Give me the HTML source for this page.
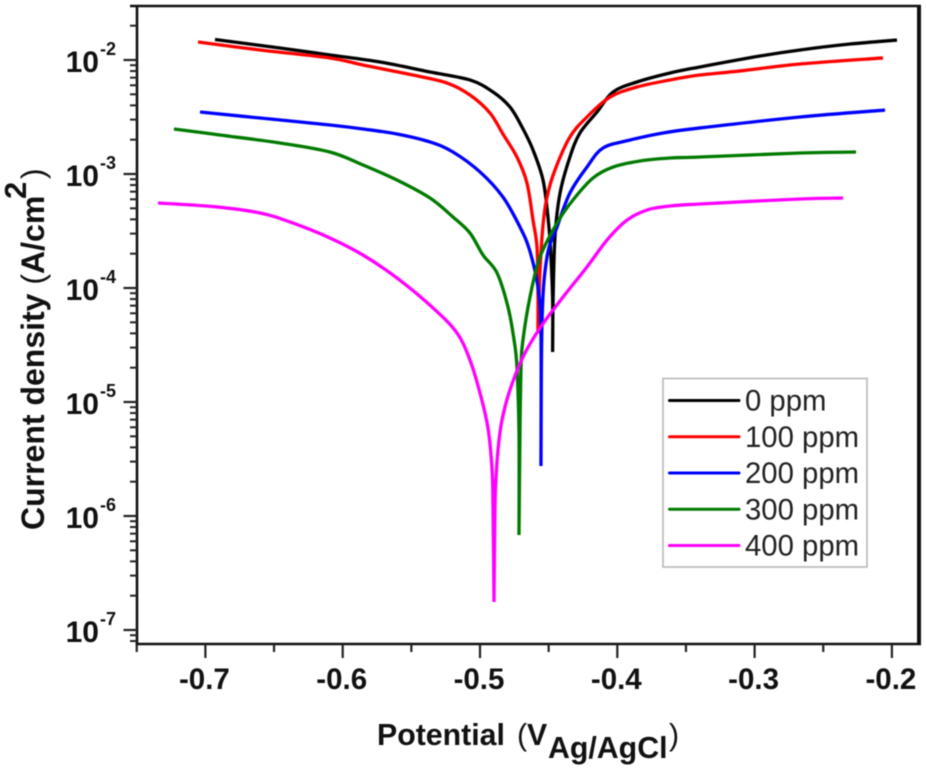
<!DOCTYPE html>
<html lang="en">
<head>
<meta charset="utf-8">
<title>Polarization curves</title>
<style>
html,body{margin:0;padding:0;background:#fff;width:926px;height:768px;overflow:hidden}
svg{display:block;filter:blur(0.65px);font-family:"Liberation Sans",sans-serif}
</style>
</head>
<body>
<svg id="chart" xmlns="http://www.w3.org/2000/svg" width="926" height="768" viewBox="0 0 926 768">
  <rect x="0" y="0" width="926" height="768" fill="#fff"/>
  <g id="series"></g>
  <g id="axes"></g>
  <text transform="translate(44,530) rotate(-90)" font-size="32" font-weight="700" fill="#111">Current density <tspan font-weight="400">(</tspan>A/cm<tspan x="331" y="-18" font-size="31">2</tspan><tspan x="351" y="0" font-weight="400">)</tspan></text>
  <text x="377" y="745" font-size="30.3" font-weight="700" fill="#111">Potential <tspan x="517" font-weight="400">(</tspan><tspan x="527">V</tspan><tspan x="548" y="758">Ag/AgCl</tspan><tspan x="669" y="745" font-weight="400">)</tspan></text>
  <g id="legend">
    <rect x="663" y="378.5" width="204" height="188.5" fill="#fff" stroke="#b8b8b8" stroke-width="1.6"/>
  </g>
</svg>
<script>
const potential0 = [-0.6930,-0.6457,-0.6093,-0.5728,-0.5364,-0.5073,-0.4905,-0.4782,-0.4694,-0.4614,-0.4541,-0.4505,-0.4487,-0.4471,-0.4471,-0.4468,-0.4454,-0.4417,-0.4345,-0.4272,-0.4148,-0.4031,-0.3857,-0.3616,-0.3398,-0.2961,-0.2669,-0.2305,-0.1963];
const logCurrent0 = [-1.820,-1.895,-1.956,-2.018,-2.105,-2.175,-2.281,-2.412,-2.588,-2.789,-3.053,-3.377,-3.640,-4.105,-4.561,-4.132,-3.553,-3.167,-2.851,-2.640,-2.456,-2.281,-2.193,-2.114,-2.061,-1.965,-1.912,-1.860,-1.825];
const potential100 = [-0.7054,-0.6602,-0.6093,-0.5852,-0.5488,-0.5240,-0.5073,-0.4927,-0.4833,-0.4731,-0.4658,-0.4614,-0.4585,-0.4578,-0.4578,-0.4570,-0.4563,-0.4541,-0.4512,-0.4454,-0.4345,-0.4221,-0.4053,-0.3857,-0.3616,-0.3398,-0.3106,-0.2669,-0.2065];
const logCurrent100 = [-1.842,-1.912,-1.982,-2.044,-2.132,-2.202,-2.307,-2.465,-2.649,-2.851,-3.079,-3.404,-3.640,-4.018,-4.395,-4.105,-3.842,-3.447,-3.202,-2.965,-2.675,-2.500,-2.325,-2.237,-2.175,-2.132,-2.096,-2.035,-1.982];
const potential200 = [-0.7039,-0.6602,-0.6093,-0.5852,-0.5605,-0.5364,-0.5197,-0.5000,-0.4833,-0.4709,-0.4639,-0.4578,-0.4556,-0.4556,-0.4548,-0.4512,-0.4439,-0.4345,-0.4221,-0.4104,-0.3907,-0.3667,-0.3398,-0.2669,-0.2050];
const logCurrent200 = [-2.456,-2.509,-2.570,-2.605,-2.649,-2.719,-2.807,-2.982,-3.202,-3.465,-3.667,-3.991,-4.395,-5.561,-4.281,-3.728,-3.465,-3.167,-2.939,-2.772,-2.702,-2.640,-2.596,-2.500,-2.439];
const potential300 = [-0.7229,-0.6894,-0.6457,-0.6093,-0.5852,-0.5605,-0.5364,-0.5197,-0.5073,-0.4978,-0.4876,-0.4796,-0.4752,-0.4731,-0.4716,-0.4716,-0.4709,-0.4701,-0.4687,-0.4636,-0.4563,-0.4439,-0.4323,-0.4177,-0.4031,-0.3835,-0.3616,-0.3398,-0.2669,-0.2261];
const logCurrent300 = [-2.605,-2.658,-2.728,-2.807,-2.921,-3.053,-3.211,-3.377,-3.518,-3.711,-3.868,-4.167,-4.456,-4.693,-5.272,-6.167,-5.272,-4.693,-4.456,-4.079,-3.728,-3.430,-3.228,-3.035,-2.939,-2.886,-2.860,-2.851,-2.816,-2.807];
const potential400 = [-0.7345,-0.6916,-0.6602,-0.6384,-0.6093,-0.5852,-0.5605,-0.5342,-0.5167,-0.5073,-0.5000,-0.4942,-0.4912,-0.4905,-0.4898,-0.4891,-0.4884,-0.4869,-0.4840,-0.4782,-0.4687,-0.4563,-0.4395,-0.4221,-0.4075,-0.3929,-0.3784,-0.3616,-0.3398,-0.2669,-0.2356];
const logCurrent400 = [-3.254,-3.289,-3.342,-3.421,-3.561,-3.711,-3.912,-4.175,-4.395,-4.632,-4.921,-5.228,-5.596,-5.947,-6.754,-5.947,-5.684,-5.421,-5.158,-4.895,-4.605,-4.351,-4.079,-3.816,-3.579,-3.404,-3.316,-3.281,-3.263,-3.219,-3.211];
const seriesLabels = ["0 ppm","100 ppm","200 ppm","300 ppm","400 ppm"];
const xTickValues = [-0.7,-0.6,-0.5,-0.4,-0.3,-0.2];
const xTickLabels = ["-0.7","-0.6","-0.5","-0.4","-0.3","-0.2"];
const xMinorValues = [-0.75,-0.65,-0.55,-0.45,-0.35,-0.25];
const yDecadeExponents = [-2,-3,-4,-5,-6,-7];
const yMinorMultipliers = [2,3,4,5,6,7,8,9];

const NS = "http://www.w3.org/2000/svg";
const plot = {left:137, right:919, top:6, bottom:644};
const seriesColors = ["#000000","#ff0000","#0000ff","#007a00","#ff00ff"];
const seriesData = [[potential0,logCurrent0],[potential100,logCurrent100],[potential200,logCurrent200],[potential300,logCurrent300],[potential400,logCurrent400]];
const xScale = v => 205.4 + (v + 0.7) * 1373;
const yScale = l => 60 + (-2 - l) * 114;

function mk(tag, attrs, parent, text){
  const el = document.createElementNS(NS, tag);
  for (const k in attrs) el.setAttribute(k, attrs[k]);
  if (text !== undefined) el.textContent = text;
  parent.appendChild(el);
  return el;
}
function smooth(pts){
  let d = "";
  for (let i = 0; i < pts.length - 1; i++){
    const p0 = pts[Math.max(i-1,0)], p1 = pts[i], p2 = pts[i+1], p3 = pts[Math.min(i+2,pts.length-1)];
    const c1x = p1[0] + (p2[0]-p0[0])/6, c1y = p1[1] + (p2[1]-p0[1])/6;
    const c2x = p2[0] - (p3[0]-p1[0])/6, c2y = p2[1] - (p3[1]-p1[1])/6;
    d += " C" + c1x.toFixed(2) + " " + c1y.toFixed(2) + " " + c2x.toFixed(2) + " " + c2y.toFixed(2) + " " + p2[0].toFixed(2) + " " + p2[1].toFixed(2);
  }
  return d;
}

const seriesGroup = document.getElementById("series");
seriesData.forEach((s, idx) => {
  const pts = s[0].map((v, i) => [xScale(v), yScale(s[1][i])]);
  let tip = 0;
  pts.forEach((p, i) => { if (p[1] > pts[tip][1]) tip = i; });
  const d = "M" + pts[0][0].toFixed(2) + " " + pts[0][1].toFixed(2) + smooth(pts.slice(0, tip + 1)) + smooth(pts.slice(tip));
  const path = mk("path", {d:d, fill:"none", stroke:seriesColors[idx], "stroke-width":3.3, "stroke-linejoin":"miter"}, seriesGroup);
  
  
});

const axes = document.getElementById("axes");
const axisLines = [
  [plot.left-7, plot.top, plot.right+2, plot.top, 2.4, "top-axis"],
  [plot.right, plot.top-1, plot.right, plot.bottom+1, 4, "right-axis"],
  [plot.left, plot.top-1, plot.left, plot.bottom+1.5, 2.6, "y-axis"],
  [plot.left-1.3, plot.bottom, plot.right+2, plot.bottom, 2.6, "x-axis"]
];
axisLines.forEach(a => {
  const line = mk("line", {x1:a[0], y1:a[1], x2:a[2], y2:a[3], stroke:"#111", "stroke-width":a[4]}, axes);
  
  
});

xTickValues.forEach((v, i) => {
  const x = xScale(v);
  const tick = mk("line", {x1:x, y1:plot.bottom, x2:x, y2:plot.bottom+14, stroke:"#222", "stroke-width":2.2}, axes);
  
  
  const label = mk("text", {x:x-1, y:689, "text-anchor":"middle", "font-size":29.5, "font-weight":700, fill:"#111"}, axes, xTickLabels[i]);
  
  
});
xMinorValues.forEach(v => {
  const x = xScale(v);
  const tick = mk("line", {x1:x, y1:plot.bottom, x2:x, y2:plot.bottom+8, stroke:"#222", "stroke-width":2.2}, axes);
  
  
});

yDecadeExponents.forEach(e => {
  const y = yScale(e);
  const tick = mk("line", {x1:plot.left, y1:y, x2:plot.left-13.5, y2:y, stroke:"#222", "stroke-width":2.2}, axes);
  
  
  const base = mk("text", {x:99, y:y+12, "text-anchor":"end", "font-size":30, "font-weight":700, fill:"#111"}, axes, "10");
  
  
  const exp = mk("text", {x:100, y:y-5, "font-size":18, "font-weight":700, fill:"#111"}, axes, String(e));
  
  
});
[-2,-3,-4,-5,-6,-7,-8].forEach(e => {
  yMinorMultipliers.forEach(m => {
    const l = e + Math.log10(m);
    const y = yScale(l);
    if (y < plot.top + 1 || y > plot.bottom) return;
    const tick = mk("line", {x1:plot.left, y1:y, x2:plot.left-7, y2:y, stroke:"#222", "stroke-width":2}, axes);
    
    
  });
});

const legend = document.getElementById("legend");
seriesLabels.forEach((name, i) => {
  const y = 400.5 + i * 36.25;
  const swatch = mk("line", {x1:669.5, y1:y, x2:739, y2:y, stroke:seriesColors[i], "stroke-width":3, "stroke-linecap":"round"}, legend);
  
  
  const label = mk("text", {x:745, y:y+10, "font-size":29.3, fill:"#222"}, legend, name);
  
  
});
</script>
</body>
</html>
